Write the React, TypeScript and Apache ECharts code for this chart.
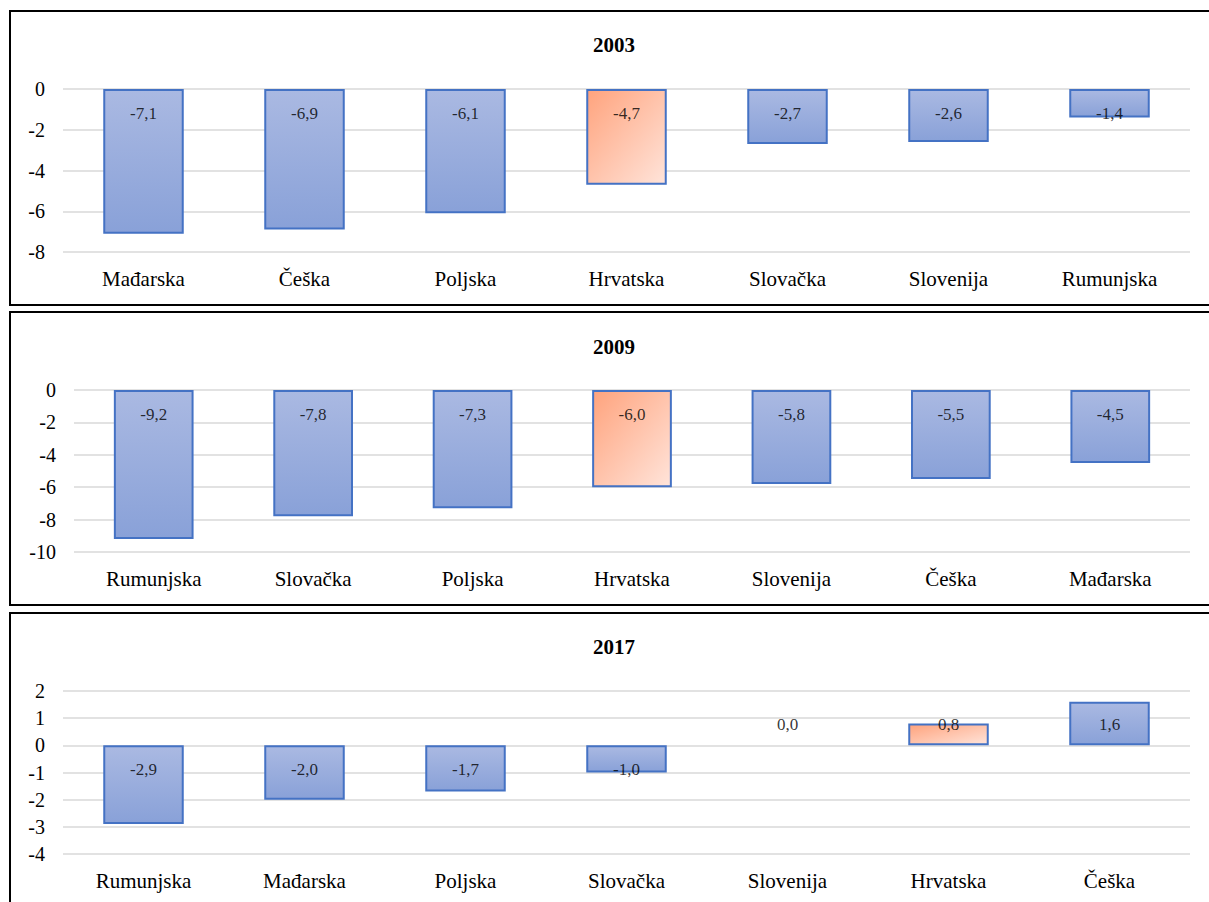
import React, { useEffect, useRef } from 'react';
import * as echarts from 'echarts';

const years = ['2003', '2009', '2017'];

const categories2003 = ['Mađarska', 'Češka', 'Poljska', 'Hrvatska', 'Slovačka', 'Slovenija', 'Rumunjska'];
const values2003 = [-7.1, -6.9, -6.1, -4.7, -2.7, -2.6, -1.4];

const categories2009 = ['Rumunjska', 'Slovačka', 'Poljska', 'Hrvatska', 'Slovenija', 'Češka', 'Mađarska'];
const values2009 = [-9.2, -7.8, -7.3, -6.0, -5.8, -5.5, -4.5];

const categories2017 = ['Rumunjska', 'Mađarska', 'Poljska', 'Slovačka', 'Slovenija', 'Hrvatska', 'Češka'];
const values2017 = [-2.9, -2.0, -1.7, -1.0, 0.0, 0.8, 1.6];

const yMins = [-8, -10, -4];
const yMaxs = [0, 0, 2];
const yIntervals = [2, 2, 1];

const highlightCategory = 'Hrvatska';

const FONT = 'Liberation Serif, Times New Roman, serif';

const fmt = (v: number) => v.toFixed(1).replace('.', ',');

export default function App() {
  const ref = useRef<HTMLDivElement>(null);

  useEffect(() => {
    if (!ref.current) return;
    const chart = echarts.init(ref.current, undefined, { renderer: 'svg' });

    const cats = [categories2003, categories2009, categories2017];
    const vals = [values2003, values2009, values2017];

    const grids = [
      { left: 63, top: 89, width: 1127, height: 163 },
      { left: 74, top: 390, width: 1116, height: 162 },
      { left: 63, top: 691, width: 1127, height: 163 },
    ];
    const titleY = [45, 347, 647];
    const panels = [
      { y: 11, h: 294 },
      { y: 312, h: 293 },
      { y: 613, h: 300 },
    ];

    const blue = () =>
      new echarts.graphic.LinearGradient(0, 0, 0, 1, [
        { offset: 0, color: '#AAB9E2' },
        { offset: 1, color: '#89A1D8' },
      ]);
    const orange = () =>
      new echarts.graphic.LinearGradient(0, 0, 1, 1, [
        { offset: 0, color: '#FFA37D' },
        { offset: 1, color: '#FFE4DA' },
      ]);

    const series: any[] = [];
    vals.forEach((values, i) => {
      series.push({
        type: 'bar',
        xAxisIndex: i,
        yAxisIndex: i,
        barCategoryGap: '50%',
        data: values.map((v, k) => ({
          value: v,
          itemStyle: {
            color: cats[i][k] === highlightCategory ? orange() : blue(),
            borderColor: '#4472C4',
            borderWidth: v === 0 ? 0 : 2,
          },
        })),
        label: { show: false },
        z: 2,
      });
      series.push({
        type: 'scatter',
        xAxisIndex: i,
        yAxisIndex: i,
        symbolSize: 1,
        itemStyle: { color: 'rgba(0,0,0,0)' },
        data: values.map((v, k) => ({
          value: [k, 0],
          label: { offset: [0, v < 0 ? 24 : -21] },
        })),
        label: {
          show: true,
          position: 'inside',
          fontFamily: FONT,
          fontSize: 17,
          color: '#000',
          formatter: (p: any) => fmt(values[p.dataIndex]),
        },
        z: 5,
      });
    });

    chart.setOption({
      animation: false,
      backgroundColor: '#fff',
      grid: grids.map((g) => ({ ...g, containLabel: false })),
      xAxis: cats.map((c, i) => ({
        type: 'category',
        gridIndex: i,
        data: c,
        position: 'bottom',
        axisLine: { show: false, onZero: false },
        axisTick: { show: false },
        axisLabel: {
          fontFamily: FONT,
          fontSize: 21,
          color: '#000',
          margin: 16,
        },
        splitLine: { show: false },
      })),
      yAxis: vals.map((_, i) => ({
        type: 'value',
        gridIndex: i,
        min: yMins[i],
        max: yMaxs[i],
        interval: yIntervals[i],
        axisLine: { show: false },
        axisTick: { show: false },
        axisLabel: {
          fontFamily: FONT,
          fontSize: 20,
          color: '#000',
          margin: 18,
        },
        splitLine: { show: true, lineStyle: { color: '#D9D9D9', width: 1.5 } },
      })),
      graphic: [
        ...panels.map((p) => ({
          type: 'rect',
          shape: { x: 10, y: p.y, width: 1225, height: p.h },
          style: { fill: 'none', stroke: '#000', lineWidth: 2 },
          z: 10,
        })),
        ...years.map((y, i) => ({
          type: 'text',
          x: 614,
          y: titleY[i],
          style: {
            text: y,
            fontFamily: FONT,
            fontSize: 21,
            fontWeight: 'bold',
            fill: '#000',
            textAlign: 'center',
            textVerticalAlign: 'middle',
          },
          z: 10,
        })),
      ],
      series,
    });

    return () => chart.dispose();
  }, []);

  return (
    <div
      ref={ref}
      style={{ position: 'absolute', left: 0, top: 0, width: 1209, height: 902 }}
    />
  );
}
